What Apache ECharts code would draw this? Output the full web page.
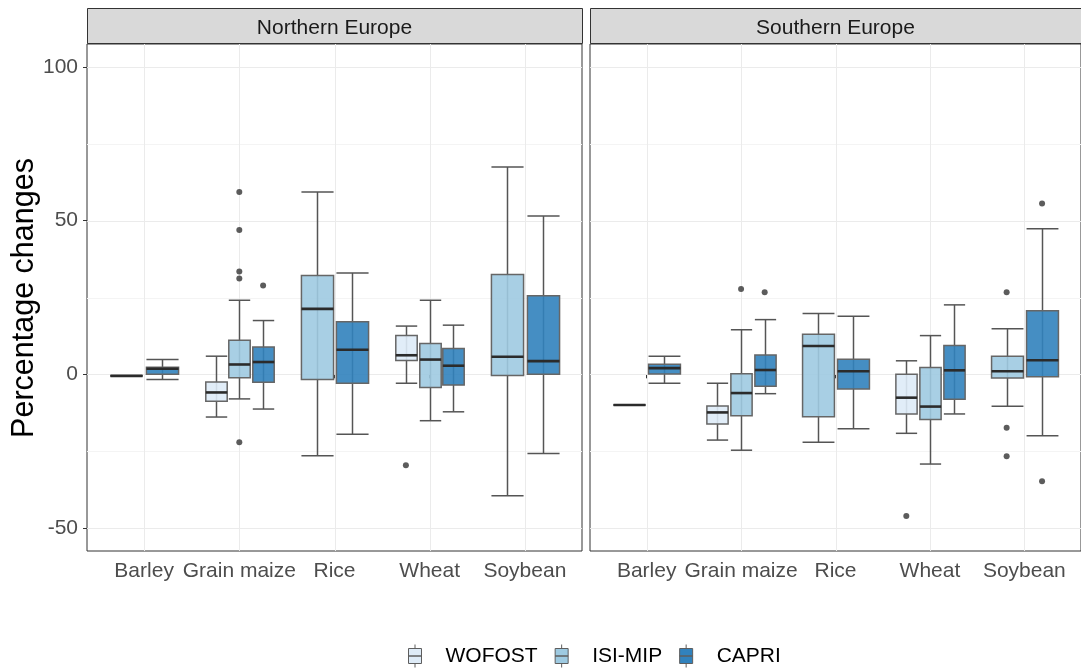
<!DOCTYPE html>
<html><head><meta charset="utf-8">
<script src="https://cdn.jsdelivr.net/npm/echarts@6/dist/echarts.min.js"></script>
<style>html,body{margin:0;padding:0;background:#fff}#c{width:1081px;height:669px}</style>
</head><body><div id="c"></div>
<script>
const categories = ['Barley', 'Grain maize', 'Rice', 'Wheat', 'Soybean'];
const groups = ['WOFOST', 'ISI-MIP', 'CAPRI'];
const panels = ['Northern Europe', 'Southern Europe'];
const yTicks = [-50, 0, 50, 100];
const yMinor = [-25, 25, 75];

// box statistics per category: [min, q1, median, q3, max]; null = no data
const northWOFOST = [[-0.5, -0.5, -0.5, -0.5, -0.5], [-13.9, -8.8, -5.9, -2.5, 5.9], null, [-2.9, 4.5, 6.2, 12.6, 15.7], null];
const northISIMIP = [null, [-8.0, -1.1, 3.2, 11.1, 24.1], [-26.5, -1.7, 21.3, 32.2, 59.3], [-15.1, -4.3, 4.8, 10.0, 24.1], [-39.5, -0.4, 5.7, 32.5, 67.5]];
const northCAPRI = [[-1.7, 0, 1.8, 2.3, 4.8], [-11.3, -2.6, 4.0, 8.9, 17.5], [-19.5, -2.9, 8.0, 17.1, 33.0], [-12.2, -3.5, 2.8, 8.4, 16.0], [-25.8, 0, 4.3, 25.6, 51.5]];
const southWOFOST = [[-10, -10, -10, -10, -10], [-21.4, -16.2, -12.4, -10.3, -2.9], null, [-19.2, -12.9, -7.6, 0, 4.4], null];
const southISIMIP = [null, [-24.7, -13.5, -6.1, 0.2, 14.5], [-22.1, -13.8, 9.2, 13.0, 19.8], [-29.2, -14.7, -10.5, 2.2, 12.6], [-10.4, -1.2, 1.0, 5.9, 14.8]];
const southCAPRI = [[-2.9, 0.1, 2.0, 3.3, 5.9], [-6.3, -3.9, 1.4, 6.3, 17.8], [-17.7, -4.8, 1.0, 4.9, 18.9], [-12.9, -8.1, 1.3, 9.4, 22.6], [-20.0, -0.8, 4.6, 20.7, 47.4]];

// outliers per category
const northWOFOSTOut = [[], [], [], [-29.6], []];
const northISIMIPOut = [[], [59.3, 47.0, 33.5, 31.2, -22.1], [], [], []];
const northCAPRIOut = [[], [28.9], [], [], []];
const southWOFOSTOut = [[], [], [], [-46.1], []];
const southISIMIPOut = [[], [27.8], [], [], [26.7, -17.4, -26.7]];
const southCAPRIOut = [[], [26.7], [], [], [55.6, -34.8]];

const groupColors = ['#deebf7', '#9ecae1', '#3182bd'];
const FONT = 'Liberation Sans, Arial, Helvetica, sans-serif';

const panelStats = [[northWOFOST, northISIMIP, northCAPRI], [southWOFOST, southISIMIP, southCAPRI]];
const panelOuts = [[northWOFOSTOut, northISIMIPOut, northCAPRIOut], [southWOFOSTOut, southISIMIPOut, southCAPRIOut]];

const grids = [
  { left: 87, top: 44, width: 495, height: 507 },
  { left: 590, top: 44, width: 491, height: 507 }
];

function renderBox(params, api) {
  const x = api.value(0), w = api.value(1);
  const pMin = api.coord([x, api.value(2)]);
  const pQ1 = api.coord([x, api.value(3)]);
  const pMed = api.coord([x, api.value(4)]);
  const pQ3 = api.coord([x, api.value(5)]);
  const pMax = api.coord([x, api.value(6)]);
  const half = api.size([w, 0])[0] / 2;
  const cx = Math.round(pMin[0]) + 0.5;
  const col = api.visual('color');
  const lineC = '#555555';
  return {
    type: 'group',
    children: [
      { type: 'line', shape: { x1: cx, y1: pMax[1], x2: cx, y2: pMin[1] }, style: { stroke: lineC, lineWidth: 1.5 } },
      { type: 'line', shape: { x1: cx - half, y1: pMax[1], x2: cx + half, y2: pMax[1] }, style: { stroke: lineC, lineWidth: 1.5 } },
      { type: 'line', shape: { x1: cx - half, y1: pMin[1], x2: cx + half, y2: pMin[1] }, style: { stroke: lineC, lineWidth: 1.5 } },
      { type: 'rect', shape: { x: cx - half, y: pQ3[1], width: 2 * half, height: pQ1[1] - pQ3[1] },
        style: { fill: col, stroke: '#666666', lineWidth: 1.5, fillOpacity: 0.9 } },
      { type: 'line', shape: { x1: cx - half, y1: pMed[1], x2: cx + half, y2: pMed[1] }, style: { stroke: '#2b2b2b', lineWidth: 2.6 } }
    ]
  };
}

function renderGrid(params, api) {
  const cs = params.coordSys;
  const v = api.value(0), kind = api.value(1);
  if (kind === 2) {
    const p = api.coord([v, 0]);
    const xx = Math.round(p[0]) + 0.5;
    return { type: 'line', shape: { x1: xx, y1: cs.y, x2: xx, y2: cs.y + cs.height }, style: { stroke: '#ebebeb', lineWidth: 1 } };
  }
  const p = api.coord([1, v]);
  const yy = Math.round(p[1]) + 0.5;
  return { type: 'line', shape: { x1: cs.x, y1: yy, x2: cs.x + cs.width, y2: yy },
    style: { stroke: kind === 0 ? '#ebebeb' : '#f4f4f4', lineWidth: 1 } };
}

const catPos = categories.map((c, i) => i + 1);
const series = [];
const xAxes = [], yAxes = [];

panels.forEach((pn, p) => {
  xAxes.push({
    type: 'value', gridIndex: p, min: 0.4, max: 5.6,
    axisLine: { show: false },
    splitLine: { show: false },
    axisTick: { show: true, customValues: catPos, length: 4, lineStyle: { color: '#333', width: 1 } },
    axisLabel: { show: true, customValues: catPos, formatter: v => categories[Math.round(v) - 1] || '',
      fontSize: 21, color: '#4d4d4d', fontFamily: FONT, margin: 10 }
  });
  yAxes.push({
    type: 'value', gridIndex: p, min: -57.5, max: 107.5,
    axisLine: { show: false },
    splitLine: { show: false },
    axisTick: { show: p === 0, customValues: yTicks, length: 4, lineStyle: { color: '#333', width: 1 } },
    axisLabel: { show: p === 0, customValues: yTicks, formatter: v => String(v),
      fontSize: 21, color: '#4d4d4d', fontFamily: FONT, margin: 9 }
  });

  const gridData = [];
  yTicks.forEach(v => gridData.push([v, 0]));
  yMinor.forEach(v => gridData.push([v, 1]));
  catPos.forEach(v => gridData.push([v, 2]));
  series.push({
    type: 'custom', name: 'grid' + p, xAxisIndex: p, yAxisIndex: p, z: 1, silent: true,
    renderItem: renderGrid, data: gridData, tooltip: { show: false }
  });

  const stats = panelStats[p], outs = panelOuts[p];
  const boxData = [[], [], []];
  const outData = [];
  categories.forEach((c, ci) => {
    const present = [0, 1, 2].filter(g => stats[g][ci]);
    const n = present.length;
    const slot = 0.75 / n;
    present.forEach((g, k) => {
      const x = (ci + 1) + (k - (n - 1) / 2) * slot;
      boxData[g].push([x, slot * 0.9].concat(stats[g][ci]));
      outs[g][ci].forEach(v => outData.push([x, v]));
    });
  });
  groups.forEach((gn, g) => {
    series.push({
      type: 'custom', name: gn, xAxisIndex: p, yAxisIndex: p, z: 3,
      itemStyle: { color: groupColors[g] },
      encode: { x: 0, y: [2, 3, 4, 5, 6] },
      renderItem: renderBox, data: boxData[g]
    });
  });
  series.push({
    type: 'scatter', name: 'outliers' + p, xAxisIndex: p, yAxisIndex: p, z: 4,
    symbolSize: 6, itemStyle: { color: '#333333' }, data: outData
  });
});

const graphics = [];
panels.forEach((pn, p) => {
  const g = grids[p];
  graphics.push({ type: 'rect', shape: { x: g.left + 0.5, y: 8.5, width: g.width, height: 35 },
    style: { fill: '#d9d9d9', stroke: '#333', lineWidth: 1 }, z: 10 });
  graphics.push({ type: 'text', x: g.left + g.width / 2, y: 28, z: 11,
    style: { text: pn, font: '21px ' + FONT, fill: '#1a1a1a', textAlign: 'center', textVerticalAlign: 'middle' } });
});
graphics.push({ type: 'text', x: 25, y: 298, rotation: Math.PI / 2, z: 11,
  style: { text: 'Percentage changes', font: '30.5px ' + FONT, fill: '#000', textAlign: 'center', textVerticalAlign: 'middle' } });

const chart = echarts.init(document.getElementById('c'), null, { renderer: 'canvas' });
chart.setOption({
  animation: false,
  backgroundColor: '#ffffff',
  textStyle: { fontFamily: FONT },
  grid: grids.map(g => Object.assign({ show: true, borderColor: '#333', borderWidth: 1, backgroundColor: 'transparent', containLabel: false }, g)),
  xAxis: xAxes,
  yAxis: yAxes,
  legend: {
    data: groups, left: 403, top: 639, orient: 'horizontal',
    itemWidth: 13, itemHeight: 23, itemGap: 17,
    icon: 'path://M6.5 0 V4 M0 4 H13 V11.5 H0 Z M0 11.5 H13 V19 H0 Z M6.5 19 V23',
    itemStyle: { borderColor: '#5e5e5e', borderWidth: 1 },
    textStyle: { fontSize: 21, color: '#000', fontFamily: FONT, padding: [0, 0, 0, 19] },
    selectedMode: false
  },
  graphic: graphics,
  series: series
});
</script>
</body></html>
